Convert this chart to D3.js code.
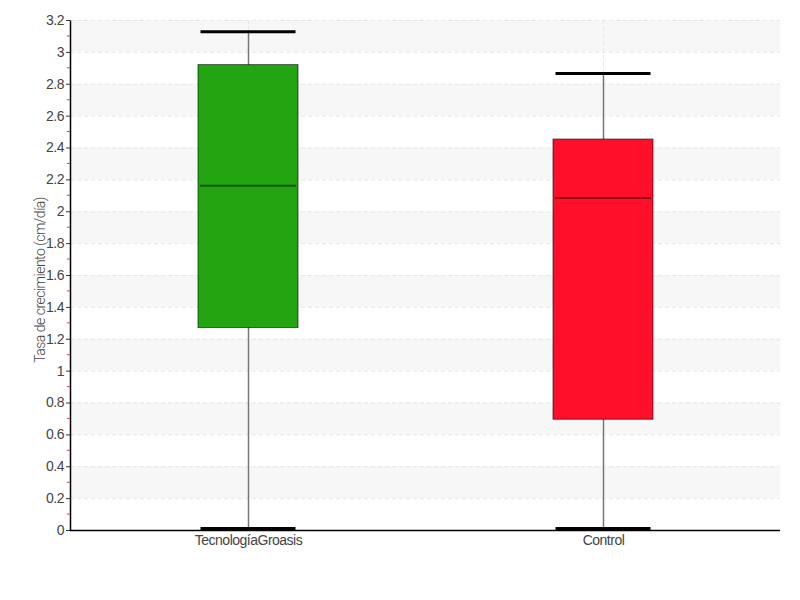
<!DOCTYPE html>
<html>
<head>
<meta charset="utf-8">
<script src="https://cdn.jsdelivr.net/npm/d3@7"></script>
<style>
  body { margin: 0; background: #fff; }
  svg { display: block; font-family: Roboto, "Noto Sans", sans-serif; }
</style>
</head>
<body>
<svg id="chart" width="800" height="600"></svg>
<script>
const categories = ["TecnologíaGroasis", "Control"];
const mins    = [0.01, 0.01];
const q1s     = [1.27, 0.695];
const medians = [2.16, 2.083];
const q3s     = [2.92, 2.453];
const maxs    = [3.127, 2.864];
const colors  = ["#22a511", "#ff0f2a"];
const yTickValues = [0, 0.2, 0.4, 0.6, 0.8, 1, 1.2, 1.4, 1.6, 1.8, 2, 2.2, 2.4, 2.6, 2.8, 3, 3.2];
const yLabel = "Tasa de crecimiento (cm/día)";

const data = categories.map((c, i) => ({
  cat: c, min: mins[i], q1: q1s[i], med: medians[i], q3: q3s[i], max: maxs[i], color: colors[i]
}));

const svg = d3.select("#chart");
const m = { left: 70, right: 20, top: 20, bottom: 70 };
const W = 800, H = 600;
const x = d3.scalePoint().domain(categories).range([248, 603]);
const y = d3.scaleLinear().domain([0, 3.2]).range([H - m.bottom, m.top]);
const xl = m.left, xr = 780;

// alternating bands
const g = svg.append("g");
for (let i = 0; i < yTickValues.length - 1; i++) {
  if ((yTickValues.length - 2 - i) % 2 === 0) {
    g.append("rect")
      .attr("x", xl + 1).attr("width", xr - xl - 1)
      .attr("y", y(yTickValues[i + 1])).attr("height", y(yTickValues[i]) - y(yTickValues[i + 1]))
      .attr("fill", "#f7f7f7");
  }
}
// horizontal dashed grid
g.selectAll("line.hg").data(yTickValues.slice(1)).join("line")
  .attr("x1", xl).attr("x2", xr)
  .attr("y1", d => y(d) + 0.5).attr("y2", d => y(d) + 0.5)
  .attr("stroke", "#e6e6e6").attr("stroke-dasharray", "4,3");
// vertical dashed grid
g.selectAll("line.vg").data(categories).join("line")
  .attr("x1", d => x(d) + 0.5).attr("x2", d => x(d) + 0.5)
  .attr("y1", y(3.2)).attr("y2", y(0))
  .attr("stroke", "#e6e6e6").attr("stroke-dasharray", "4,3");

// boxes
const bw = 100, cw = 95;
const bx = svg.append("g").selectAll("g").data(data).join("g");
bx.append("line")
  .attr("x1", d => x(d.cat) + 0.5).attr("x2", d => x(d.cat) + 0.5)
  .attr("y1", d => y(d.max)).attr("y2", d => y(d.min))
  .attr("stroke", "#777").attr("stroke-width", 1.5);
bx.append("rect")
  .attr("x", d => x(d.cat) - bw / 2).attr("width", bw)
  .attr("y", d => y(d.q3)).attr("height", d => y(d.q1) - y(d.q3))
  .attr("fill", d => d.color)
  .attr("stroke", "#000").attr("stroke-opacity", 0.6).attr("stroke-width", 1);
bx.append("line")
  .attr("x1", d => x(d.cat) - bw / 2 + 2).attr("x2", d => x(d.cat) + bw / 2 - 2)
  .attr("y1", d => y(d.med)).attr("y2", d => y(d.med))
  .attr("stroke", "#000").attr("stroke-opacity", 0.45).attr("stroke-width", 2);
bx.selectAll("line.cap").data(d => [d.max, d.min].map(v => ({ v, c: d.cat }))).join("line")
  .attr("x1", d => x(d.c) - cw / 2).attr("x2", d => x(d.c) + cw / 2)
  .attr("y1", d => y(d.v)).attr("y2", d => y(d.v))
  .attr("stroke", "#000").attr("stroke-width", 3);

// Y axis
const yAxis = svg.append("g").attr("transform", `translate(${xl},0)`)
  .call(d3.axisLeft(y).tickValues(yTickValues).tickSize(4).tickSizeOuter(0)
    .tickFormat(d => d3.format("")(+d.toFixed(1))));
yAxis.select(".domain").attr("stroke", "#000").attr("stroke-width", 1.5);
yAxis.selectAll(".tick line").attr("stroke", "#333");
yAxis.selectAll(".tick text").attr("fill", "#444").attr("font-size", 14)
  .attr("font-weight", 300).attr("x", -6).style("letter-spacing", "-0.5px");
// minor ticks
const minors = d3.range(0.1, 3.2, 0.2);
svg.append("g").selectAll("line").data(minors).join("line")
  .attr("x1", xl - 3).attr("x2", xl)
  .attr("y1", d => y(d)).attr("y2", d => y(d))
  .attr("stroke", "#ff3333").attr("stroke-width", 1);

// X axis
const xAxis = svg.append("g").attr("transform", `translate(0,${y(0)})`)
  .call(d3.axisBottom(x).tickSize(0).tickSizeOuter(0));
xAxis.select(".domain").remove();
svg.append("line").attr("x1", xl).attr("x2", xr)
  .attr("y1", y(0) + 0.5).attr("y2", y(0) + 0.5)
  .attr("stroke", "#000").attr("stroke-width", 1.5);
xAxis.selectAll(".tick text").attr("fill", "#444").attr("font-size", 14)
  .attr("font-weight", 300).attr("dy", "0.95em").attr("y", 2).style("letter-spacing", "-0.5px");

// Y label
svg.append("text")
  .attr("transform", `translate(45,${(y(0) + y(3.2)) / 2 + 5}) rotate(-90)`)
  .attr("text-anchor", "middle")
  .attr("font-size", 14).attr("font-weight", 300).attr("fill", "#444")
  .style("letter-spacing", "-0.5px")
  .text(yLabel);
</script>
</body>
</html>
